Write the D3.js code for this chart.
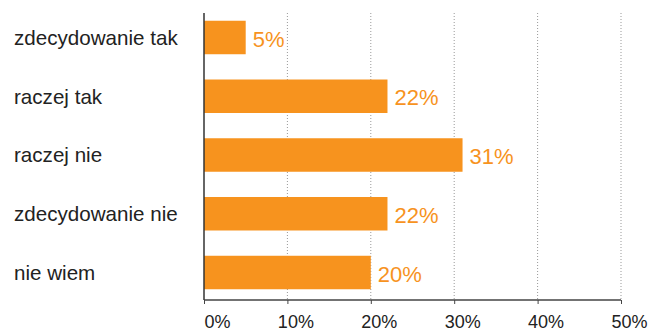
<!DOCTYPE html>
<html>
<head>
<meta charset="utf-8">
<script src="https://cdn.jsdelivr.net/npm/d3@7"></script>
<style>
  body { margin: 0; background: #fff; }
  text { font-family: "Liberation Sans", Arial, sans-serif; }
</style>
</head>
<body>
<div id="chart"></div>
<script>
// data
var categories = ["zdecydowanie tak", "raczej tak", "raczej nie", "zdecydowanie nie", "nie wiem"];
var values = [5, 22, 31, 22, 20];
var tickValues = [0, 10, 20, 30, 40, 50];

var width = 654, height = 333;
var margin = { top: 13, left: 204, right: 33, bottom: 33 };

var svg = d3.select("#chart").append("svg")
    .attr("width", width)
    .attr("height", height);

var x = d3.scaleLinear()
    .domain([0, 50])
    .range([margin.left, width - margin.right]);

var y = d3.scaleBand()
    .domain(categories)
    .range([margin.top - 4, height - margin.bottom + 1])
    .paddingInner(0.43)
    .paddingOuter(0.2);

// dotted grid lines
svg.selectAll("line.grid")
    .data(tickValues.slice(1))
    .enter().append("line")
    .attr("class", "grid")
    .attr("x1", function(d) { return x(d); })
    .attr("x2", function(d) { return x(d); })
    .attr("y1", margin.top)
    .attr("y2", height - margin.bottom)
    .style("stroke", "#999")
    .style("stroke-width", 1)
    .style("stroke-dasharray", "1,2");

// bars
svg.selectAll("rect.bar")
    .data(values)
    .enter().append("rect")
    .attr("class", "bar")
    .attr("x", x(0))
    .attr("y", function(d, i) { return y(categories[i]); })
    .attr("width", function(d) { return x(d) - x(0); })
    .attr("height", y.bandwidth())
    .style("fill", "#F7931E");

// value labels
svg.selectAll("text.value")
    .data(values)
    .enter().append("text")
    .attr("class", "value")
    .attr("x", function(d) { return x(d) + 7; })
    .attr("y", function(d, i) { return y(categories[i]) + y.bandwidth() / 2; })
    .attr("dy", "0.42em")
    .style("font-size", "22px")
    .style("fill", "#F7931E")
    .text(function(d) { return d + "%"; });

// category labels
svg.selectAll("text.cat")
    .data(categories)
    .enter().append("text")
    .attr("class", "cat")
    .attr("x", 14)
    .attr("y", function(d) { return y(d) + y.bandwidth() / 2; })
    .attr("dy", "0.36em")
    .style("font-size", "20.6px")
    .style("fill", "#222")
    .text(function(d) { return d; });

// x axis
var xAxis = d3.axisBottom(x)
    .tickValues(tickValues)
    .tickSize(4)
    .tickPadding(11)
    .tickFormat(function(d) { return d + "%"; });

var gx = svg.append("g")
    .attr("transform", "translate(0," + (height - margin.bottom) + ")")
    .call(xAxis);
gx.select(".domain").style("stroke", "#444").style("stroke-width", 1.5)
    .attr("d", "M" + x(0) + ",0H" + x(50));
gx.selectAll(".tick line").style("stroke", "#444");
gx.selectAll(".tick text")
    .attr("x", 26)
    .style("text-anchor", "end")
    .style("font-size", "18px")
    .style("fill", "#222")
    .style("font-family", "'Liberation Sans', Arial, sans-serif");

// y axis line
svg.append("line")
    .attr("x1", x(0))
    .attr("x2", x(0))
    .attr("y1", margin.top)
    .attr("y2", height - margin.bottom)
    .style("stroke", "#333")
    .style("stroke-width", 1.5);
</script>
</body>
</html>
